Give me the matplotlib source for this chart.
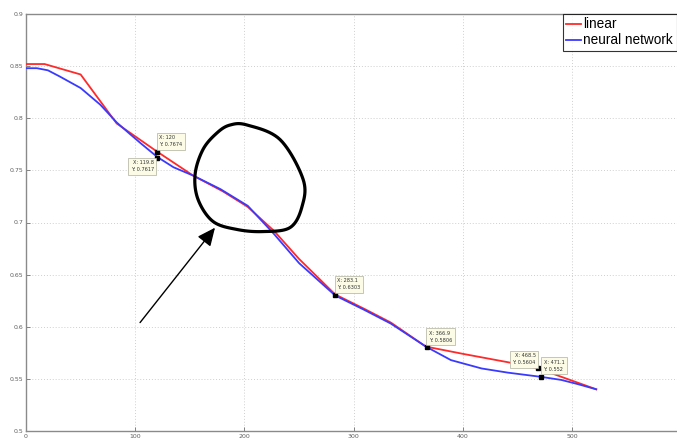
import numpy as np
import matplotlib
matplotlib.use("Agg")
import matplotlib.pyplot as plt
from matplotlib.path import Path
from matplotlib.patches import PathPatch

# ---- data ----
linear_x = [0, 17, 50, 83, 120, 153, 180, 203, 227, 250, 283, 310, 334, 366, 400, 441, 469, 490, 522]
linear_y = [0.852, 0.852, 0.842, 0.795, 0.768, 0.745, 0.730, 0.715, 0.692, 0.665, 0.631, 0.617, 0.604,
            0.581, 0.574, 0.566, 0.560, 0.552, 0.540]

nn_x = [0, 10, 20, 31, 50, 68, 83, 95, 105, 120, 135, 153, 178, 203, 227, 250, 283, 310, 334, 366,
        389, 417, 441, 471, 490, 505, 522]
nn_y = [0.848, 0.848, 0.846, 0.840, 0.829, 0.813, 0.796, 0.785, 0.776, 0.763, 0.753, 0.745, 0.732,
        0.716, 0.689, 0.661, 0.630, 0.616, 0.603, 0.581, 0.568, 0.560, 0.556, 0.552, 0.549, 0.545, 0.540]

# data cursors
cursor_x = [120, 119.8, 283.1, 366.9, 468.5, 471.0]
cursor_y = [0.7674, 0.7617, 0.6303, 0.5806, 0.5604, 0.552]
cursor_labels = ["X: 120\nY: 0.7674", "X: 119.8\nY: 0.7617", "X: 283.1\nY: 0.6303",
                 "X: 366.9\nY: 0.5806", "X: 468.5\nY: 0.5604", "X: 471.1\nY: 0.552"]
cursor_ha = ["left", "right", "left", "left", "right", "left"]
cursor_va = ["bottom", "top", "bottom", "bottom", "bottom", "bottom"]
cursor_off = [(2, 5), (-3, -2), (2, 5), (2, 4), (-2, 3), (3, 5)]

x_ticks = [0, 100, 200, 300, 400, 500]
y_ticks = [0.5, 0.55, 0.6, 0.65, 0.7, 0.75, 0.8, 0.85, 0.9]
y_ticklabels = ["0.5", "0.55", "0.6", "0.65", "0.7", "0.75", "0.8", "0.85", "0.9"]

# hand-drawn annotation outline (data coords)
blob_x = [186.8, 202.4, 232.6, 253.7, 252.7, 241.8, 217.0, 193.2, 171.2, 157.5, 154.8, 162.1, 174.9]
blob_y = [0.7935, 0.7935, 0.7795, 0.7413, 0.7154, 0.6952, 0.6913, 0.6933, 0.7010, 0.7221, 0.7462, 0.7702, 0.7860]
arrow_tail = (104.4, 0.604)
arrow_tip = (173.0, 0.695)

# ---- figure ----
W, H = 677, 441
fig = plt.figure(figsize=(W / 100, H / 100), dpi=100)
ax = fig.add_axes([26 / W, 10 / H, 662 / W, 417 / H])
ax.set_xlim(0, 606)
ax.set_ylim(0.5, 0.9)

ax.grid(True, color="#cfcfcf", linestyle=(0, (1, 2)), linewidth=0.7)
ax.set_axisbelow(True)

ax.plot(linear_x, linear_y, color="#ff2a2a", lw=1.3, label="linear", zorder=3)
ax.plot(nn_x, nn_y, color="#3a3aff", lw=1.3, label="neural network", zorder=4)

ax.set_xticks(x_ticks)
ax.set_xticklabels([str(t) for t in x_ticks])
ax.set_yticks(y_ticks)
ax.set_yticklabels(y_ticklabels)
ax.tick_params(direction="in", length=3, width=0.6, colors="#707070", labelsize=4.5,
               labelcolor="#606060", pad=2)
for s in ax.spines.values():
    s.set_color("#8a8a8a")
    s.set_linewidth(1.0)

# data cursors
for cx, cy, lab, ha, va, off in zip(cursor_x, cursor_y, cursor_labels, cursor_ha, cursor_va, cursor_off):
    ax.plot([cx], [cy], marker="s", ms=2.8, color="black", zorder=6)
    ax.annotate(lab, xy=(cx, cy), xytext=off, textcoords="offset pixels", ha=ha, va=va,
                fontsize=3.6, color="#333333", linespacing=1.5, zorder=7,
                bbox=dict(boxstyle="square,pad=0.5", fc="#fbfbe6", ec="#b0b0a0", lw=0.5))

# closed smooth outline (Catmull-Rom)
pts = np.column_stack([blob_x, blob_y])
n = len(pts)
verts = []
for i in range(n):
    p0, p1, p2, p3 = pts[(i - 1) % n], pts[i], pts[(i + 1) % n], pts[(i + 2) % n]
    for t in np.linspace(0, 1, 12, endpoint=False):
        t2, t3 = t * t, t * t * t
        v = 0.5 * ((2 * p1) + (-p0 + p2) * t + (2 * p0 - 5 * p1 + 4 * p2 - p3) * t2
                   + (-p0 + 3 * p1 - 3 * p2 + p3) * t3)
        verts.append(v)
verts.append(verts[0])
codes = [Path.MOVETO] + [Path.LINETO] * (len(verts) - 2) + [Path.CLOSEPOLY]
ax.add_patch(PathPatch(Path(verts, codes), fill=False, ec="black", lw=2.3, zorder=8,
                       joinstyle="round"))

ax.annotate("", xy=arrow_tip, xytext=arrow_tail,
            arrowprops=dict(arrowstyle="-|>,head_length=1.1,head_width=0.5", lw=1.0,
                            color="black", shrinkA=0, shrinkB=0), zorder=8)

leg = ax.legend(loc="upper left", bbox_to_anchor=(563 / W, 1 - 14 / H),
                bbox_transform=fig.transFigure, fontsize=9.8, frameon=True, fancybox=False,
                edgecolor="black", handlelength=1.1, handletextpad=0.15, borderpad=0.25,
                labelspacing=0.15, borderaxespad=0)
leg.get_frame().set_linewidth(0.8)
for t in leg.get_texts():
    t.set_family("Liberation Sans")

fig.savefig("out.png", dpi=100, facecolor="white")
